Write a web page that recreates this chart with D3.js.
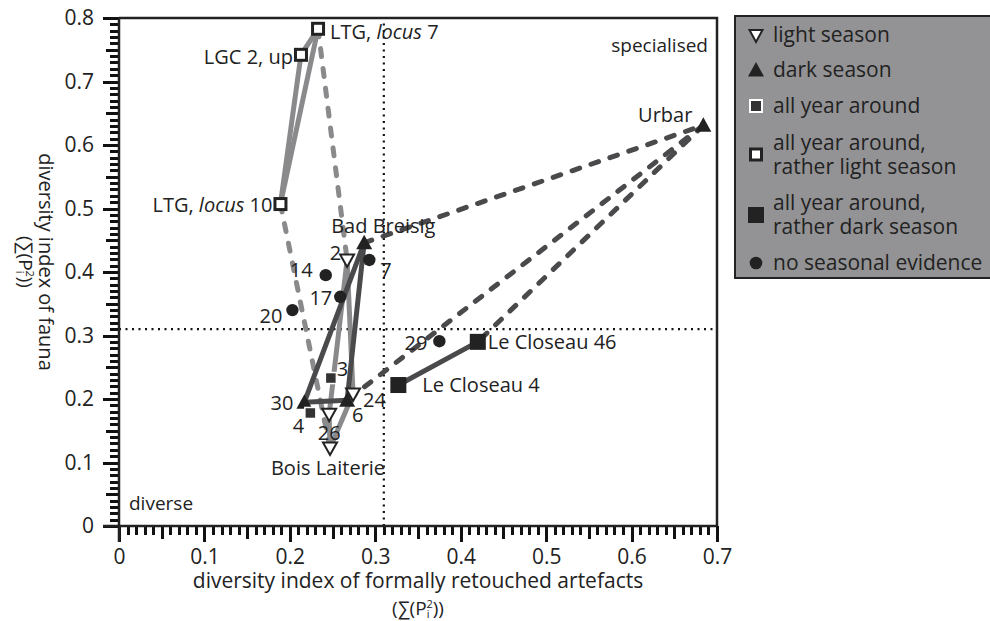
<!DOCTYPE html>
<html><head><meta charset="utf-8">
<script src="https://cdn.jsdelivr.net/npm/d3@7"></script>
<style>
body{margin:0;background:#fff;}
svg text{font-family:"Open Sans","Noto Sans",sans-serif;fill:#222;}
</style></head>
<body><svg id="c" width="990" height="621"></svg>
<script>
// ---- data ----
const siteNames = ["LTG, locus 7","LGC 2, up","LTG, locus 10","Urbar","Bad Breisig","2","7","14","17","20","3","30","4","26","Bois Laiterie","6","24","29","Le Closeau 46","Le Closeau 4"];
const artefactIndex = [0.233,0.213,0.189,0.684,0.287,0.267,0.293,0.242,0.259,0.203,0.248,0.217,0.224,0.246,0.247,0.267,0.274,0.375,0.420,0.327];
const faunaIndex    = [0.783,0.742,0.507,0.631,0.446,0.419,0.419,0.395,0.361,0.340,0.233,0.195,0.178,0.176,0.123,0.198,0.208,0.291,0.290,0.222];
const season = ["ratherLight","ratherLight","ratherLight","dark","dark","light","none","none","none","none","allYear","dark","allYear","light","light","dark","light","none","ratherDark","ratherDark"];
const lightSolidLinks = [["LTG, locus 10","LGC 2, up"],["LTG, locus 10","LTG, locus 7"],["LGC 2, up","LTG, locus 7"],["2","24"],["24","Bois Laiterie"],["Bois Laiterie","26"],["26","2"]];
const lightDashedLinks = [["LTG, locus 7","2"],["LTG, locus 10","Bois Laiterie"]];
const darkSolidLinks = [["30","Bad Breisig"],["Bad Breisig","6"],["6","30"],["Le Closeau 4","Le Closeau 46"]];
const darkDashedLinks = [["Bad Breisig","Urbar"],["Urbar","6"],["Urbar","Le Closeau 46"]];
const xTicks = [0,0.1,0.2,0.3,0.4,0.5,0.6,0.7];
const yTicks = [0,0.1,0.2,0.3,0.4,0.5,0.6,0.7,0.8];
const xMinorTicks = [0,0.01,0.02,0.03,0.04,0.05,0.06,0.07,0.08,0.09,0.1,0.11,0.12,0.13,0.14,0.15,0.16,0.17,0.18,0.19,0.2,0.21,0.22,0.23,0.24,0.25,0.26,0.27,0.28,0.29,0.3,0.31,0.32,0.33,0.34,0.35,0.36,0.37,0.38,0.39,0.4,0.41,0.42,0.43,0.44,0.45,0.46,0.47,0.48,0.49,0.5,0.51,0.52,0.53,0.54,0.55,0.56,0.57,0.58,0.59,0.6,0.61,0.62,0.63,0.64,0.65,0.66,0.67,0.68,0.69,0.7];
const yMinorTicks = xMinorTicks.concat([0.71,0.72,0.73,0.74,0.75,0.76,0.77,0.78,0.79,0.8]);
const threshold = 0.31;
const legendItems = [["light season"],["dark season"],["all year around"],["all year around,","rather light season"],["all year around,","rather dark season"],["no seasonal evidence"]];
const legendKeys = ["light","dark","allYear","ratherLight","ratherDark","none"];

// label placement: anchor, dx, dy (to label centre)
const labelPos = {
 "LTG, locus 7":["start",12,3],"LGC 2, up":["end",-8,2],"LTG, locus 10":["end",-8,1],
 "Urbar":["end",-11,-10],"Bad Breisig":["start",-33,-17],"2":["end",-6,-7],"7":["start",11,10],
 "14":["end",-13,-5],"17":["end",-8,1],"20":["end",-10,6],"3":["start",6,-9],"30":["end",-11,1],
 "4":["middle",-12,13],"26":["middle",0,19],"Bois Laiterie":["middle",-2,20],"6":["start",5,15],
 "24":["start",10,6],"29":["end",-12,2],"Le Closeau 46":["start",10,0],"Le Closeau 4":["start",24,0]
};

const svg = d3.select("#c");
const x = d3.scaleLinear().domain([0,0.7]).range([119,717]);
const y = d3.scaleLinear().domain([0,0.8]).range([526,18]);
const pts = siteNames.map((n,i)=>({name:n,x:artefactIndex[i],y:faunaIndex[i],s:season[i]}));
const byName = Object.fromEntries(pts.map(p=>[p.name,p]));

// dotted thresholds
svg.append("line").attr("x1",x(threshold)).attr("x2",x(threshold)).attr("y1",y(0)).attr("y2",y(0.8))
  .attr("stroke","#111").attr("stroke-width",2.2).attr("stroke-dasharray","2,4.5");
svg.append("line").attr("x1",x(0)).attr("x2",x(0.7)).attr("y1",y(threshold)).attr("y2",y(threshold))
  .attr("stroke","#111").attr("stroke-width",2.2).attr("stroke-dasharray","2,4.5");

// frame
svg.append("path").attr("d",`M${x(0)},${y(0.8)}H${x(0.7)}V${y(0)}`).attr("fill","none").attr("stroke","#222").attr("stroke-width",2.5);

// tick marks via d3 axes (0.01 steps, longer at 0.05 and 0.1)
function tlen(v){const k=Math.round(v*100); return k%10===0?16:(k%5===0?13:9);}
const gxt = svg.append("g").attr("transform",`translate(0,${y(0)})`)
  .call(d3.axisBottom(x).tickValues(xMinorTicks).tickSize(9).tickSizeOuter(0).tickFormat(()=>""));
gxt.select(".domain").remove();
gxt.selectAll(".tick line").attr("y2",d=>tlen(d)).attr("shape-rendering","crispEdges").style("stroke","#111").style("stroke-width","3px");
const gyt = svg.append("g").attr("transform",`translate(${x(0)},0)`)
  .call(d3.axisLeft(y).tickValues(yMinorTicks).tickSize(9).tickSizeOuter(0).tickFormat(()=>""));
gyt.select(".domain").remove();
gyt.selectAll(".tick line").attr("x2",d=>-tlen(d)).attr("shape-rendering","crispEdges").style("stroke","#111").style("stroke-width","3px");
// axis lines
svg.append("line").attr("x1",x(0)-16).attr("x2",x(0.7)).attr("y1",y(0)).attr("y2",y(0)).attr("stroke","#222").attr("stroke-width",2.5);
svg.append("line").attr("x1",x(0)).attr("x2",x(0)).attr("y1",y(0)+16).attr("y2",y(0.8)).attr("stroke","#222").attr("stroke-width",2.5);

// tick labels via axes
const fmt = d=>d===0?"0":d3.format(".1f")(d);
const gxl = svg.append("g").attr("transform",`translate(0,${y(0)})`)
  .call(d3.axisBottom(x).tickValues(xTicks).tickSize(0).tickPadding(23).tickFormat(fmt));
gxl.select(".domain").remove();
gxl.selectAll("text").attr("font-size",21).attr("fill","#222");
const gyl = svg.append("g").attr("transform",`translate(${x(0)},0)`)
  .call(d3.axisLeft(y).tickValues(yTicks).tickSize(0).tickPadding(25).tickFormat(fmt));
gyl.select(".domain").remove();
gyl.selectAll("text").attr("font-size",21).attr("fill","#222");

// axis titles
function subsup(t){
  t.append("tspan").text("(∑(P");
  t.append("tspan").attr("font-size",11).attr("dy",3).text("i");
  t.append("tspan").attr("font-size",11).attr("dx",-3).attr("dy",-10).text("2");
  t.append("tspan").attr("dy",7).text("))");
}
const xc = (x(0)+x(0.7))/2;
svg.append("text").attr("x",xc).attr("y",588).attr("text-anchor","middle").attr("font-size",21)
  .text("diversity index of formally retouched artefacts");
subsup(svg.append("text").attr("x",xc).attr("y",615).attr("text-anchor","middle").attr("font-size",19));
const yt = svg.append("g").attr("transform",`translate(39,262) rotate(90)`);
yt.append("text").attr("x",0).attr("y",0).attr("text-anchor","middle").attr("font-size",20).text("diversity index of fauna");
subsup(yt.append("text").attr("x",0).attr("y",20).attr("text-anchor","middle").attr("font-size",19));

// corner labels
svg.append("text").attr("x",708).attr("y",45).attr("dy","0.35em").attr("text-anchor","end").attr("font-size",19).text("specialised");
svg.append("text").attr("x",129).attr("y",503).attr("dy","0.35em").attr("font-size",19).text("diverse");

// links
function drawLinks(links,color,dash){
  svg.append("g").selectAll("line").data(links).join("line")
   .attr("x1",d=>x(byName[d[0]].x)).attr("y1",d=>y(byName[d[0]].y))
   .attr("x2",d=>x(byName[d[1]].x)).attr("y2",d=>y(byName[d[1]].y))
   .attr("stroke",color).attr("stroke-width",5).attr("stroke-linecap","round")
   .attr("stroke-dasharray",dash?"8,12":null);
}
drawLinks(lightDashedLinks,"#8a8a8c",true);
drawLinks(darkDashedLinks,"#4a4a4c",true);
drawLinks(lightSolidLinks,"#8a8a8c",false);
drawLinks(darkSolidLinks,"#4a4a4c",false);

// markers
function marker(g,s){
  if(s==="light") g.append("path").attr("d","M-7,-5.5L7,-5.5L0,7Z").attr("fill","#fff").attr("stroke","#222").attr("stroke-width",2);
  else if(s==="dark") g.append("path").attr("d","M-8,6.5L8,6.5L0,-8Z").attr("fill","#222");
  else if(s==="allYear") g.append("rect").attr("x",-5.5).attr("y",-5.5).attr("width",11).attr("height",11).attr("fill","#333").attr("stroke","#fff").attr("stroke-width",1.5);
  else if(s==="ratherLight") g.append("rect").attr("x",-5.5).attr("y",-5.5).attr("width",11).attr("height",11).attr("fill","#fff").attr("stroke","#222").attr("stroke-width",3);
  else if(s==="ratherDark") g.append("rect").attr("x",-8).attr("y",-8).attr("width",16).attr("height",16).attr("fill","#222");
  else g.append("circle").attr("r",6.2).attr("fill","#222");
}
const mg = svg.append("g").selectAll("g").data(pts).join("g").attr("transform",d=>`translate(${x(d.x)},${y(d.y)})`);
mg.each(function(d){marker(d3.select(this),d.s);});

// labels
svg.append("g").selectAll("text").data(pts).join("text")
  .attr("x",d=>x(d.x)+labelPos[d.name][1]).attr("y",d=>y(d.y)+labelPos[d.name][2]).attr("dy","0.35em")
  .attr("text-anchor",d=>labelPos[d.name][0]).attr("font-size",20)
  .each(function(d){
    const t=d3.select(this);
    const m=d.name.match(/^(LTG, )(locus)( \d+)$/);
    if(m){t.append("tspan").text(m[1]);t.append("tspan").attr("font-style","italic").text(m[2]);t.append("tspan").text(m[3]);}
    else t.text(d.name);
  });

// legend
const lg = svg.append("g");
lg.append("rect").attr("x",735).attr("y",16).attr("width",270).attr("height",262).attr("fill","#939395").attr("stroke","#222").attr("stroke-width",2);
const legendY = [35,70,106,154.5,215,263];
legendItems.forEach((lines,i)=>{
  const g = lg.append("g").attr("transform",`translate(756,${legendY[i]})`);
  const k = legendKeys[i];
  if(k==="light") g.append("path").attr("d","M-6.5,-5L6.5,-5L0,7Z").attr("fill","#fff").attr("stroke","#222").attr("stroke-width",2);
  else if(k==="dark") g.append("path").attr("d","M-8,6.5L8,6.5L0,-8Z").attr("fill","#222");
  else if(k==="allYear") g.append("rect").attr("x",-6).attr("y",-6).attr("width",12).attr("height",12).attr("fill","#333").attr("stroke","#fff").attr("stroke-width",2);
  else if(k==="ratherLight") g.append("rect").attr("x",-5.5).attr("y",-5.5).attr("width",11).attr("height",11).attr("fill","#fff").attr("stroke","#222").attr("stroke-width",3);
  else if(k==="ratherDark") g.append("rect").attr("x",-8).attr("y",-8).attr("width",16).attr("height",16).attr("fill","#222");
  else g.append("circle").attr("r",6.3).attr("fill","#222");
  lines.forEach((l,j)=>{
    lg.append("text").attr("x",773).attr("y",legendY[i]+(lines.length>1?-12+24*j:0)).attr("dy","0.35em").attr("font-size",21).text(l);
  });
});
</script></body></html>
